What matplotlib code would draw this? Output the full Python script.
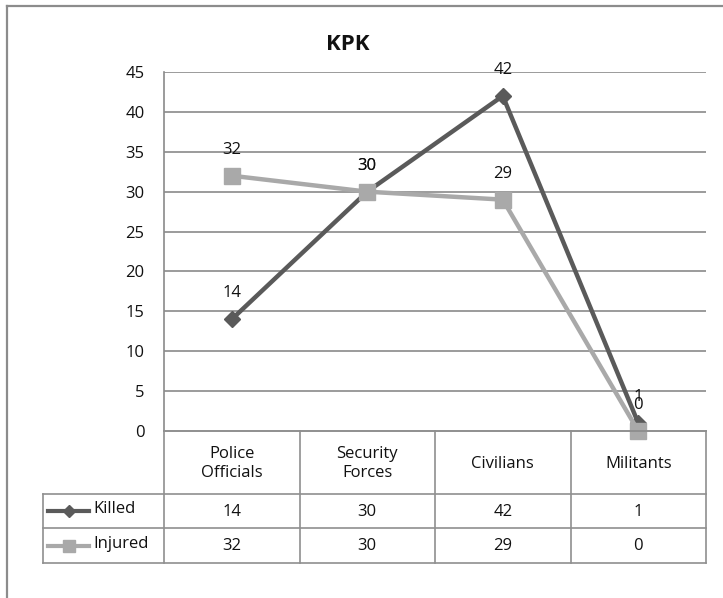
import matplotlib
matplotlib.use("Agg")
import matplotlib.pyplot as plt
from matplotlib.lines import Line2D

plt.rcParams['font.family'] = ['Open Sans', 'DejaVu Sans']

# --- data ---
categories = ["Police\nOfficials", "Security\nForces", "Civilians", "Militants"]
killed = [14, 30, 42, 1]
injured = [32, 30, 29, 0]
series_names = ["Killed", "Injured"]
yticks = [0, 5, 10, 15, 20, 25, 30, 35, 40, 45]
title = "KPK"

W, H = 723, 598
DPI = 100
fig = plt.figure(figsize=(W / DPI, H / DPI), dpi=DPI)
fig.patch.set_facecolor("white")

# plot area in pixel coordinates
px_left, px_right, px_top, px_bottom = 164, 706, 72, 431
ax = fig.add_axes([px_left / W, 1 - px_bottom / H,
                   (px_right - px_left) / W, (px_bottom - px_top) / H])

dark = "#5a5a5a"
light = "#a9a9a9"
grid_c = "#8a8a8a"
txt_c = "#111111"
fs = 12
x = list(range(len(categories)))

ax.set_xlim(-0.5, len(categories) - 0.5)
ax.set_ylim(0, 45)
ax.set_yticks(yticks)
ax.set_yticklabels([str(t) for t in yticks], fontsize=fs)
ax.tick_params(axis="y", length=0, pad=14, labelcolor=txt_c)
ax.set_xticks([])
ax.patch.set_alpha(0)
for side in ["top", "right", "bottom"]:
    ax.spines[side].set_visible(False)
ax.spines["left"].set_color(grid_c)
ax.spines["left"].set_linewidth(1.2)
for t in yticks[1:]:
    ax.axhline(t, color=grid_c, lw=1.2, zorder=1)

ax.plot(x, killed, color=dark, lw=3.2, marker="D", ms=8.5,
        mfc=dark, mec=dark, zorder=3, clip_on=False)
ax.plot(x, injured, color=light, lw=3.2, marker="s", ms=11,
        mfc=light, mec=light, zorder=4, clip_on=False)

for vals in (killed, injured):
    for xi, v in zip(x, vals):
        ax.annotate(str(v), (xi, v), xytext=(0, 26), textcoords="offset pixels",
                    ha="center", va="center", fontsize=fs, color=txt_c, zorder=5)

# background layer in pixel coordinates: outer frame and title
bg = fig.add_axes([0, 0, 1, 1], zorder=-1)
bg.set_xlim(0, W)
bg.set_ylim(H, 0)
bg.axis("off")

border_c = "#8c8c8c"
bg.add_line(Line2D([7, W], [6, 6], color=border_c, lw=1.6))
bg.add_line(Line2D([7, 7], [6, H], color=border_c, lw=1.6))

bg.text(348, 44, title, ha="center", va="center", fontsize=16,
        fontweight="bold", color=txt_c)

# data table below the plot area
tb = fig.add_axes([0, 0, 1, 1], zorder=5)
tb.set_xlim(0, W)
tb.set_ylim(H, 0)
tb.axis("off")
tb.patch.set_alpha(0)

tab_c = "#8f8f8f"
col_w = (px_right - px_left) / len(categories)
col_edges = [px_left + i * col_w for i in range(len(categories) + 1)]
row_edges = [431, 494, 528, 563]
legend_left = 43

tb.add_line(Line2D([px_left, px_right], [row_edges[0]] * 2, color=tab_c, lw=1.4))
for yy in row_edges[1:]:
    tb.add_line(Line2D([legend_left, px_right], [yy, yy], color=tab_c, lw=1.2))
for xx in col_edges:
    tb.add_line(Line2D([xx, xx], [row_edges[0], row_edges[-1]], color=tab_c, lw=1.2))
tb.add_line(Line2D([legend_left, legend_left], [row_edges[1], row_edges[-1]],
                   color=tab_c, lw=1.2))

for i, cat in enumerate(categories):
    cx = col_edges[i] + col_w / 2
    tb.text(cx, (row_edges[0] + row_edges[1]) / 2 + 1, cat, ha="center",
            va="center", fontsize=fs, color=txt_c, linespacing=1.25)

rows = [(series_names[0], killed, dark, "D", 6.5),
        (series_names[1], injured, light, "s", 8.5)]
for r, (name, vals, col, mk, ms) in enumerate(rows):
    cy = (row_edges[r + 1] + row_edges[r + 2]) / 2
    tb.add_line(Line2D([48, 89], [cy, cy], color=col, lw=3))
    tb.add_line(Line2D([68.5], [cy], color=col, marker=mk, ms=ms, mfc=col, mec=col))
    tb.text(93, cy - 2, name, ha="left", va="center", fontsize=fs, color=txt_c)
    for i, v in enumerate(vals):
        cx = col_edges[i] + col_w / 2
        tb.text(cx, cy + 1, str(v), ha="center", va="center", fontsize=fs,
                color=txt_c)

fig.savefig("out.png", dpi=DPI)
